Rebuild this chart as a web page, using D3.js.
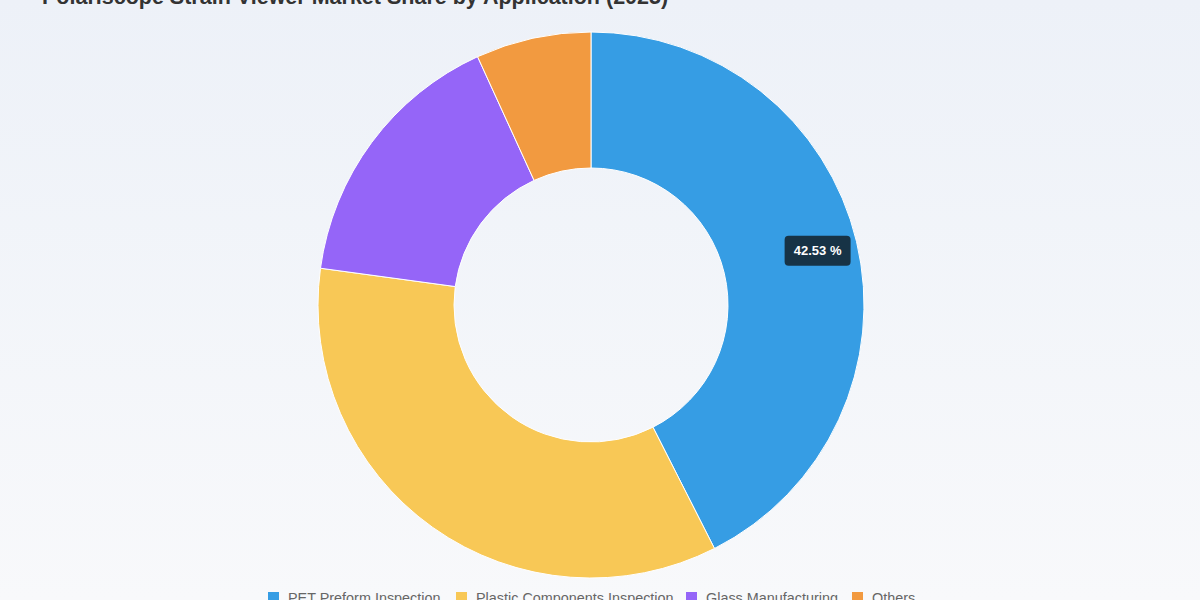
<!DOCTYPE html>
<html><head><meta charset="utf-8">
<script src="https://cdn.jsdelivr.net/npm/d3@7"></script>
<style>html,body{margin:0;padding:0;}body{width:1200px;height:600px;overflow:hidden;background:linear-gradient(#edf1f8,#f8f9fb);}</style>
</head><body>
<svg id="c" width="1200" height="600"></svg>
<script>
const categories = ["PET Preform Inspection","Plastic Components Inspection","Glass Manufacturing","Others"];
const values = [42.53, 34.62, 16.03, 6.82];
const colors = ["#369de4","#f8c856","#9565f8","#f29a40"];
const title = "Polariscope Strain Viewer Market Share by Application (2025)";

const svg = d3.select("#c");
const cx = 591, cy = 305, R = 273, r0 = 137;
svg.append("text").attr("x",42).attr("y",4).attr("font-family","Liberation Sans, Arial, sans-serif")
  .attr("font-size",21.5).attr("font-weight","bold").attr("fill","#333").text(title);

const pie = d3.pie().sort(null).value(d=>d)(values);
const arc = d3.arc().innerRadius(r0).outerRadius(R);
const g = svg.append("g").attr("transform",`translate(${cx},${cy})`);
g.selectAll("path").data(pie).join("path").attr("d",arc)
  .attr("fill",(d,i)=>colors[i]).attr("stroke","#fff").attr("stroke-width",1);

const la = d3.arc().innerRadius(233).outerRadius(233);
const p = la.centroid(pie[0]);
const lg = g.append("g").attr("transform",`translate(${p[0]},${p[1]})`);
lg.append("rect").attr("x",-33).attr("y",-15).attr("width",66).attr("height",30).attr("rx",4).attr("fill","#173346");
lg.append("text").attr("text-anchor","middle").attr("dy","0.35em").attr("fill","#fff")
  .attr("font-family","Liberation Sans, Arial, sans-serif").attr("font-size",13).attr("font-weight","bold")
  .text(values[0].toFixed(2)+" %");

const leg = svg.append("g").attr("font-family","Liberation Sans, Arial, sans-serif").attr("font-size",14.4);
const xs = [268, 456, 686, 852];
categories.forEach((c,i)=>{
  leg.append("rect").attr("x",xs[i]).attr("y",592).attr("width",11).attr("height",11).attr("fill",colors[i]);
  leg.append("text").attr("x",xs[i]+20).attr("y",603).attr("fill","#666").text(c);
});
</script>
</body></html>
